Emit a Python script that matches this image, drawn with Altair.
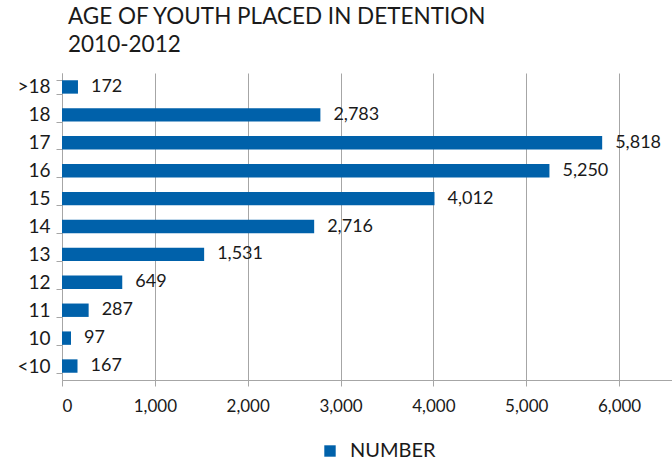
import altair as alt
import pandas as pd

ages = [">18", "18", "17", "16", "15", "14", "13", "12", "11", "10", "<10"]
counts = [172, 2783, 5818, 5250, 4012, 2716, 1531, 649, 287, 97, 167]
series = ["NUMBER"] * len(ages)
x_ticks = [0, 1000, 2000, 3000, 4000, 5000, 6000]
title_lines = ["AGE OF YOUTH PLACED IN DETENTION", "2010-2012"]

df = pd.DataFrame({"age": ages, "count": counts, "series": series})

FONT = "Lato"
BLUE = "#0061AA"
GRID = "#a6a6a6"
TXT = "#1a1a1a"

y_enc = alt.Y(
    "age:N",
    sort=ages,
    scale=alt.Scale(paddingInner=0.52, paddingOuter=0.26),
    axis=alt.Axis(
        title=None, grid=False, domain=True, domainColor=GRID, ticks=True,
        tickColor=GRID, tickSize=6, tickBand="extent", labelFont=FONT,
        labelFontSize=19, labelColor=TXT, labelPadding=6,
    ),
)
x_enc = alt.X(
    "count:Q",
    scale=alt.Scale(domain=[0, 6570], nice=False),
    axis=alt.Axis(
        title=None, values=x_ticks, format=",.0f", grid=True, gridColor=GRID,
        domainColor=GRID, tickColor=GRID, tickSize=6, labelFont=FONT,
        labelFontSize=17, labelColor=TXT, labelPadding=12,
    ),
)

base = alt.Chart(df)
bars = base.mark_bar().encode(
    y=y_enc,
    x=x_enc,
    color=alt.Color(
        "series:N",
        scale=alt.Scale(range=[BLUE]),
        legend=alt.Legend(
            title=None, orient="none", legendX=258, legendY=368,
            symbolType="square", symbolSize=130, symbolStrokeWidth=0,
            labelFont=FONT, labelFontSize=20, labelColor=TXT, labelOffset=10,
        ),
    ),
)
labels = base.mark_text(
    align="left", baseline="middle", dx=13, font=FONT, fontSize=18, color=TXT
).encode(
    y=y_enc,
    x=x_enc,
    text=alt.Text("count:Q", format=",.0f"),
)

chart = (
    alt.layer(bars, labels)
    .properties(
        width=610,
        height=307,
        autosize=alt.AutoSizeParams(type="none"),
        padding={"left": 62, "top": 73, "right": 0, "bottom": 81},
        title=alt.TitleParams(
            title_lines, anchor="start", frame="group", dx=6, offset=8,
            font=FONT, fontSize=22.5, fontWeight="normal", color=TXT,
            lineHeight=28,
        ),
    )
    .configure_view(stroke=None)
)

chart.save("out.html", embed_options={"renderer": "svg", "actions": False})
